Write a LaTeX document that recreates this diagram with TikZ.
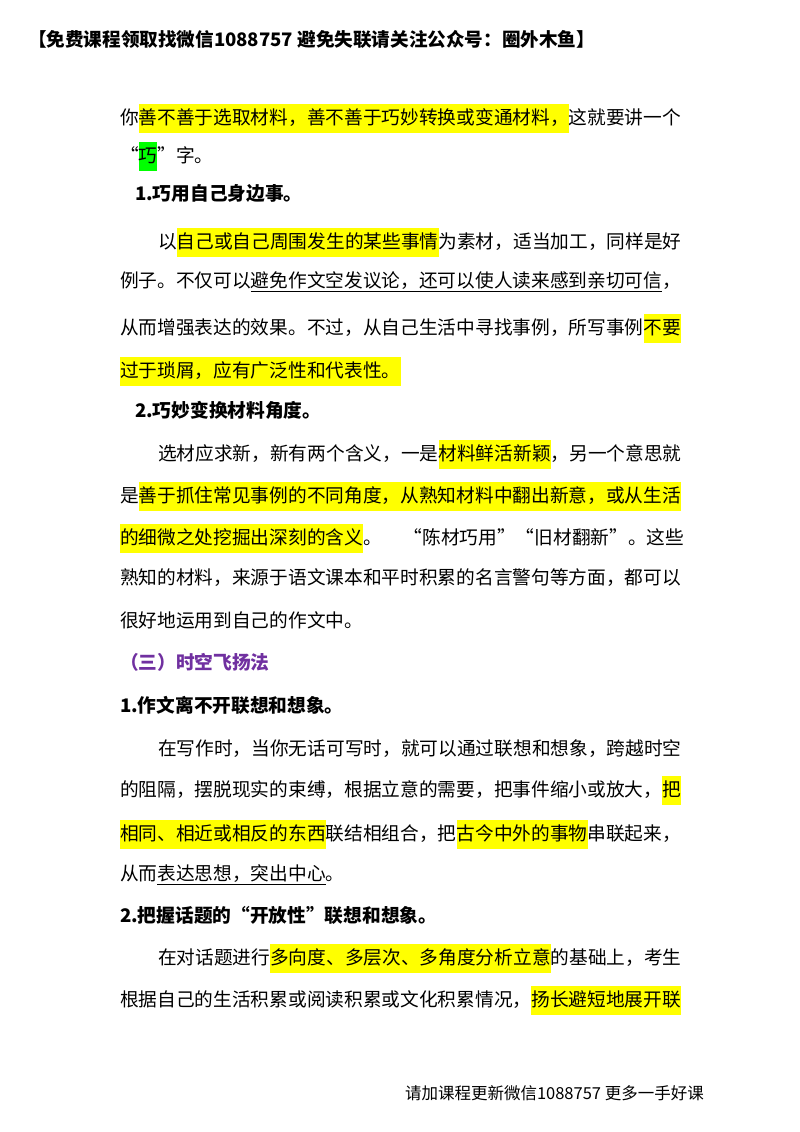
\documentclass[tikz,border=0pt]{standalone}
\usepackage{fontspec}
\setmainfont{Noto Sans CJK SC}
\definecolor{hly}{RGB}{255,255,0}
\definecolor{hlg}{RGB}{0,255,0}
\definecolor{purp}{RGB}{112,48,160}
\begin{document}
\begin{tikzpicture}[x=1pt,y=-1pt,
  seg/.style={inner sep=0pt, outer sep=0pt, anchor=base west, font=\fontsize{18.7}{22}\selectfont, text height=20pt, text depth=9pt},
  hl/.style={seg, fill=hly},
  gr/.style={seg, fill=hlg},
  hd/.style={seg, font=\fontsize{18.7}{22}\selectfont\bfseries},
  ul/.style={line width=0.8pt}]
\useasboundingbox (0,0) rectangle (800,1132);
\node[seg, font=\fontsize{18.6}{20}\selectfont\bfseries] (top) at (28,47) {【免费课程领取找微信1088757 避免失联请关注公众号：圈外木鱼】};
\node[seg, font=\fontsize{16.5}{20}\selectfont] (bot) at (405,1099) {请加课程更新微信1088757 更多一手好课};
% L1
\node[seg] (a1) at (120,124) {你};
\node[hl] (a2) at (a1.base east) {善不善于选取材料，善不善于巧妙转换或变通材料，};
\node[seg] (a3) at (a2.base east) {这就要讲一个};
\node[seg] (b1) at (120,162) {“};
\node[gr] (b2) at (b1.base east) {巧};
\node[seg] (b3) at (b2.base east) {”字。};
\node[hd] (h1) at (135,200) {1.巧用自己身边事。};
\node[seg] (c1) at (158,248) {以};
\node[hl] (c2) at (c1.base east) {自己或自己周围发生的某些事情};
\node[seg] (c3) at (c2.base east) {为素材，适当加工，同样是好};
\node[seg] (d1) at (120,287) {例子。不仅可以};
\node[seg] (d2) at (d1.base east) {避免作文空发议论，还可以使人读来感到亲切可信};
\node[seg] (d3) at (d2.base east) {，};
\draw[ul] ([yshift=-4pt]d2.base west) -- ([yshift=-4pt]d2.base east);
\node[seg] (e1) at (120,334) {从而增强表达的效果。不过，从自己生活中寻找事例，所写事例};
\node[hl] (e2) at (e1.base east) {不要};
\node[hl] (f1) at (120,377) {过于琐屑，应有广泛性和代表性。};
\node[hd] (h2) at (135,417) {2.巧妙变换材料角度。};
\node[seg] (g1) at (158,460) {选材应求新，新有两个含义，一是};
\node[hl] (g2) at (g1.base east) {材料鲜活新颖};
\node[seg] (g3) at (g2.base east) {，另一个意思就};
\node[seg] (i1) at (120,502) {是};
\node[hl] (i2) at (i1.base east) {善于抓住常见事例的不同角度，从熟知材料中翻出新意，或从生活};
\node[hl] (j1) at (120,544) {的细微之处挖掘出深刻的含义};
\node[seg] (j2) at (j1.base east) {。\hspace{22pt}“陈材巧用”“旧材翻新”。这些};
\node[seg] (k1) at (120,584) {熟知的材料，来源于语文课本和平时积累的名言警句等方面，都可以};
\node[seg] (l1) at (120,627) {很好地运用到自己的作文中。};
\node[hd, text=purp] (h3) at (120,669) {（三）时空飞扬法};
\node[hd] (h4) at (120,712) {1.作文离不开联想和想象。};
\node[seg] (m1) at (158,755) {在写作时，当你无话可写时，就可以通过联想和想象，跨越时空};
\node[seg] (n1) at (120,796) {的阻隔，摆脱现实的束缚，根据立意的需要，把事件缩小或放大，};
\node[hl] (n2) at (n1.base east) {把};
\node[hl] (o1) at (120,840) {相同、相近或相反的东西};
\node[seg] (o2) at (o1.base east) {联结相组合，把};
\node[hl] (o3) at (o2.base east) {古今中外的事物};
\node[seg] (o4) at (o3.base east) {串联起来，};
\node[seg] (p1) at (120,880) {从而};
\node[seg] (p2) at (p1.base east) {表达思想，突出中心};
\node[seg] (p3) at (p2.base east) {。};
\draw[ul] ([yshift=-4pt]p2.base west) -- ([yshift=-4pt]p2.base east);
\node[hd] (h5) at (120,922) {2.把握话题的“开放性”联想和想象。};
\node[seg] (q1) at (158,964) {在对话题进行};
\node[hl] (q2) at (q1.base east) {多向度、多层次、多角度分析立意};
\node[seg] (q3) at (q2.base east) {的基础上，考生};
\node[seg] (r1) at (120,1006) {根据自己的生活积累或阅读积累或文化积累情况，};
\node[hl] (r2) at (r1.base east) {扬长避短地展开联};
\end{tikzpicture}
\end{document}
